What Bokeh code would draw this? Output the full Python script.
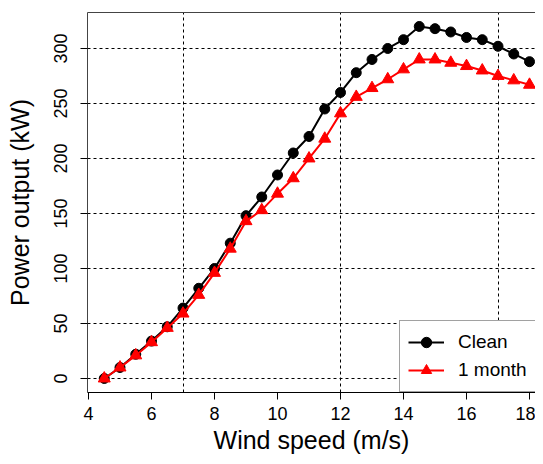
from bokeh.plotting import figure
from bokeh.models import Range1d, FixedTicker, LinearAxis, Legend, LegendItem
from bokeh.embed import file_html
from bokeh.resources import INLINE

wind_speed = [4.5, 5, 5.5, 6, 6.5, 7, 7.5, 8, 8.5, 9, 9.5, 10, 10.5, 11, 11.5,
              12, 12.5, 13, 13.5, 14, 14.5, 15, 15.5, 16, 16.5, 17, 17.5, 18]
clean = [0, 10, 22, 34, 47, 64, 82, 100, 123, 148, 165, 185, 205, 220, 245,
         260, 278, 290, 300, 308, 320, 318, 315, 310, 308, 302, 295, 288]
one_month = [0, 10, 21, 33, 46, 59, 76, 96, 118, 143, 153, 168, 182, 200, 218,
             241, 256, 264, 272, 281, 290, 290, 287, 284, 280, 275, 271, 267]
x_ticks = [4, 6, 8, 10, 12, 14, 16, 18]
y_ticks = [0, 50, 100, 150, 200, 250, 300]
x_grid = [7, 12, 17]

FONT = "Liberation Sans"

p = figure(width=535, height=456, output_backend="svg", toolbar_location=None,
           x_range=Range1d(3.968, 18.19), y_range=Range1d(-12.73, 332.7),
           min_border_left=87, min_border_right=0, min_border_top=12,
           min_border_bottom=64, x_axis_label="Wind speed (m/s)",
           y_axis_label="Power output (kW)")
p.outline_line_color = None
p.background_fill_color = "white"
p.border_fill_color = "white"

# grid
p.xgrid.ticker = FixedTicker(ticks=x_grid)
p.ygrid.ticker = FixedTicker(ticks=y_ticks)
for g in (p.xgrid, p.ygrid):
    g.grid_line_color = "black"
    g.grid_line_dash = "3 3"
    g.grid_line_width = 1

# axes
p.xaxis.ticker = FixedTicker(ticks=x_ticks)
p.yaxis.ticker = FixedTicker(ticks=y_ticks)
for ax in (p.xaxis, p.yaxis):
    ax.major_tick_out = 7
    ax.major_tick_in = 0
    ax.minor_tick_out = 0
    ax.minor_tick_in = 0
    ax.major_tick_line_color = "black"
    ax.major_label_text_font = FONT
    ax.major_label_text_font_size = "18px"
    ax.major_label_text_color = "black"
    ax.axis_label_text_font = FONT
    ax.axis_label_text_font_size = "25px"
    ax.axis_label_text_font_style = "normal"
    ax.axis_label_text_color = "black"
p.xaxis.axis_line_color = "black"
p.yaxis.axis_line_color = "#444444"
p.yaxis.major_label_orientation = "vertical"
p.xaxis.major_label_standoff = 7
p.yaxis.major_label_standoff = 13
p.xaxis.axis_label_standoff = 3
p.yaxis.axis_label_standoff = 18

top = LinearAxis(major_tick_out=0, major_tick_in=0, minor_tick_out=0, minor_tick_in=0,
                 major_label_text_font_size="0px", axis_line_color="#444444",
                 ticker=FixedTicker(ticks=[]))
p.add_layout(top, "above")

# data
l1 = p.line(wind_speed, clean, line_color="black", line_width=2)
s1 = p.scatter(wind_speed, clean, marker="circle", size=10, fill_color="black",
               line_color="black")
l2 = p.line(wind_speed, one_month, line_color="red", line_width=2)
s2 = p.scatter(wind_speed, one_month, marker="triangle", size=12, fill_color="red",
               line_color="red")

legend = Legend(items=[LegendItem(label="Clean", renderers=[l1, s1]),
                       LegendItem(label="1 month", renderers=[l2, s2])],
                location=(312, 0), margin=0, padding=8, spacing=2,
                glyph_width=36, glyph_height=26, label_height=26,
                label_standoff=14, label_text_font=FONT,
                label_text_font_size="19px", label_text_color="black",
                border_line_color="#444444", border_line_width=1,
                background_fill_color="white", background_fill_alpha=1)
p.add_layout(legend)

open("out.html", "w").write(file_html(p, INLINE))
